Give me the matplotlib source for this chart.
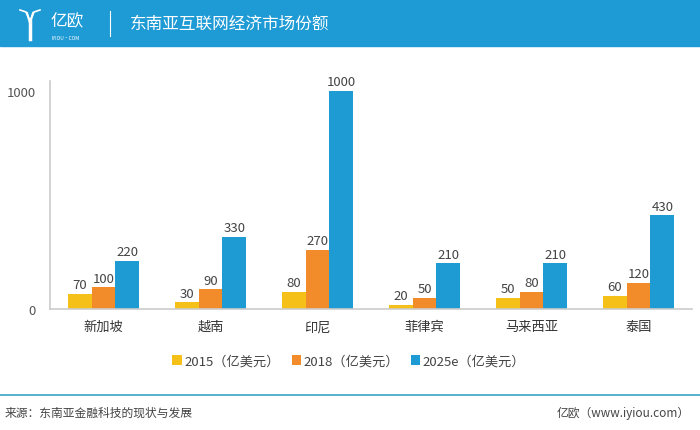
import numpy as np
import matplotlib
matplotlib.use('Agg')
import matplotlib.pyplot as plt
from matplotlib.patches import Rectangle
from matplotlib.lines import Line2D

plt.rcParams['font.family'] = ['Noto Sans CJK SC', 'DejaVu Sans']

# 数据
countries = ['新加坡', '越南', '印尼', '菲律宾', '马来西亚', '泰国']
v2015 = [70, 30, 80, 20, 50, 60]
v2018 = [100, 90, 270, 50, 80, 120]
v2025 = [220, 330, 1000, 210, 210, 430]
series_names = ['2015（亿美元）', '2018（亿美元）', '2025e（亿美元）']
colors = ['#f5c018', '#f28b2a', '#1f9bd4']

W, H = 700, 431


def px(x, y):
    # 像素坐标 -> figure 坐标
    return x / W, 1 - y / H


fig = plt.figure(figsize=(7, 4.31), dpi=100)

# 顶部标题栏
fig.patches.append(Rectangle((0, 1 - 47 / H), 1, 47 / H, transform=fig.transFigure,
                             color='#1e9ad5', zorder=0))
# logo (简化)
fig.lines.append(Line2D([27 / W, 30 / W, 33 / W], [1 - 14 / H, 1 - 24 / H, 1 - 14 / H],
                        transform=fig.transFigure, color='white', lw=1.5))
fig.lines.append(Line2D([20 / W, 26 / W, 30 / W, 34 / W, 40 / W],
                        [1 - 11 / H, 1 - 13 / H, 1 - 22 / H, 1 - 13 / H, 1 - 11 / H],
                        transform=fig.transFigure, color='white', lw=1.2))
fig.lines.append(Line2D([30 / W, 30 / W], [1 - 22 / H, 1 - 40 / H],
                        transform=fig.transFigure, color='white', lw=2.5))
fig.text(*px(50, 22), '亿欧', color='white', fontsize=12, va='center', ha='left')
fig.text(*px(51, 38), 'IYIOU·COM', color='white', fontsize=3.5, va='center', ha='left')
fig.lines.append(Line2D([110 / W, 110 / W], [1 - 12 / H, 1 - 37 / H],
                        transform=fig.transFigure, color='white', lw=0.8))
fig.text(*px(130, 24), '东南亚互联网经济市场份额', color='white', fontsize=12,
         va='center', ha='left')

# 主图
ax = fig.add_axes([50 / W, (H - 310) / H, 642 / W, 228 / H])
x = np.arange(len(countries))
w = 0.224
bars = []
for i, (vals, c, name) in enumerate(zip([v2015, v2018, v2025], colors, series_names)):
    b = ax.bar(x + (i - 1) * w, vals, width=w, color=c, label=name, zorder=2)
    bars.append(b)
    for xi, v in zip(x + (i - 1) * w, vals):
        ax.text(xi, v + 12, str(v), ha='center', va='bottom', fontsize=9.5, color='#444444')

ax.set_xlim(-0.5, len(countries) - 0.5)
ax.set_ylim(0, 1045)
ax.set_yticks([0, 1000])
ax.set_yticklabels(['0', '1000'], fontsize=9.5, color='#555555')
ax.set_xticks(x)
ax.set_xticklabels(countries, fontsize=9.5, color='#333333')
ax.tick_params(length=0, pad=8)
ax.tick_params(axis='y', pad=10)
for s in ['top', 'right']:
    ax.spines[s].set_visible(False)
for s in ['left', 'bottom']:
    ax.spines[s].set_color('#cccccc')
    ax.spines[s].set_linewidth(1.2)

fig.legend(handles=bars, labels=series_names, loc='center', bbox_to_anchor=px(349, 362),
           ncol=3, frameon=False, fontsize=9.5, handlelength=0.7, handleheight=0.7,
           handletextpad=0.2, columnspacing=0.9, labelcolor='#444444')

# 底部
fig.lines.append(Line2D([0, 1], [1 - 396 / H, 1 - 396 / H], transform=fig.transFigure,
                        color='#3aa3c6', lw=1.2))
fig.text(*px(5, 413), '来源：东南亚金融科技的现状与发展', fontsize=8.5, color='#444444',
         va='center', ha='left')
fig.text(*px(690, 413), '亿欧（www.iyiou.com）', fontsize=8.5, color='#444444',
         va='center', ha='right')

plt.savefig('out.png', dpi=100)
